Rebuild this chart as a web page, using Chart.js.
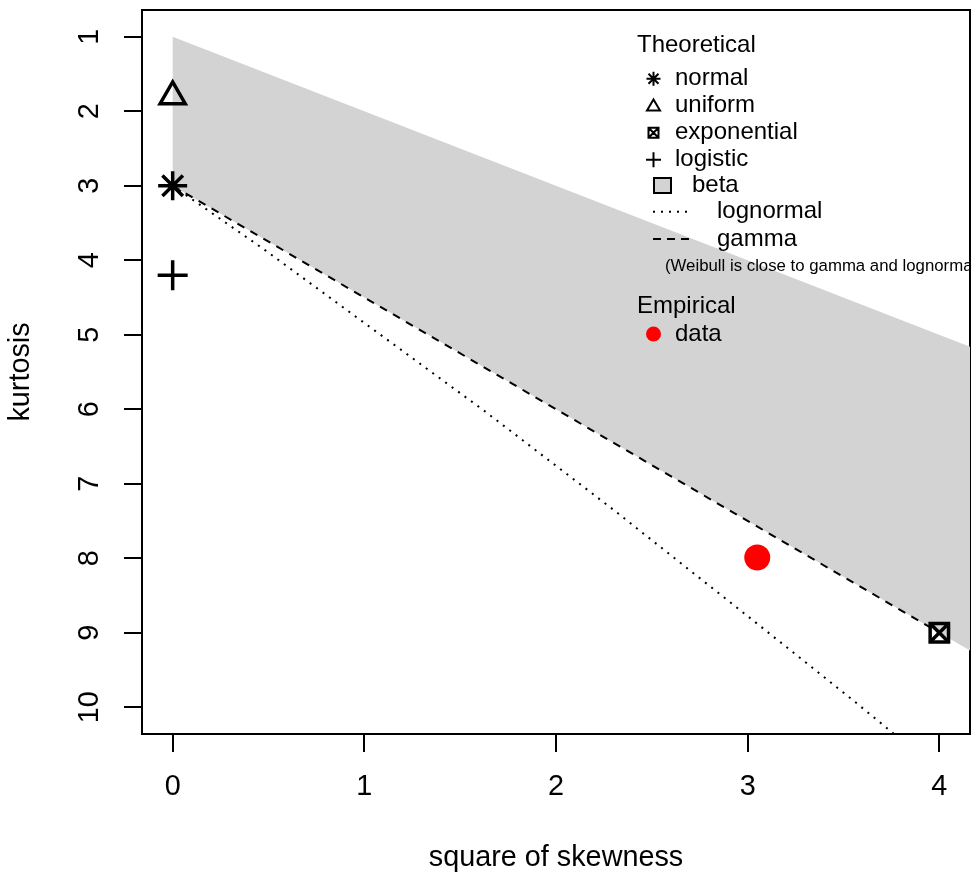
<!DOCTYPE html>
<html><head><meta charset="utf-8">
<script src="https://cdn.jsdelivr.net/npm/chart.js@4/dist/chart.umd.min.js"></script>
<style>html,body{margin:0;padding:0;background:#fff}canvas{display:block}</style>
</head><body>
<canvas id="c" width="973" height="875"></canvas>
<script>
// ---- data ----
const xTicks = [0, 1, 2, 3, 4];
const yTicks = [1, 2, 3, 4, 5, 6, 7, 8, 9, 10];
const xLimits = [-0.16, 4.16];
const yLimits = [0.64, 10.36];
const xTitle = 'square of skewness';
const yTitle = 'kurtosis';
const betaX = [0, 4.5, 4.5, 0];
const betaY = [1, 5.5, 9.75, 3];
const lognormalX = [0, 0.48, 1.01, 1.62, 2.30, 3.06, 3.57, 3.93];
const lognormalY = [3, 3.86, 4.86, 6.01, 7.35, 8.90, 9.95, 10.71];
const gammaX = [0, 4];
const gammaY = [3, 9];
const normalPoint = [0, 3];
const uniformPoint = [0, 1.8];
const exponentialPoint = [4, 9];
const logisticPoint = [0, 4.2];
const empiricalPoint = [3.05, 7.99];
const legendTitleTheo = 'Theoretical';
const legendNames = ['normal', 'uniform', 'exponential', 'logistic', 'beta', 'lognormal', 'gamma'];
const legendNote = '(Weibull is close to gamma and lognormal)';
const legendTitleEmp = 'Empirical';
const legendEmpName = 'data';

const pts = (xs, ys) => xs.map((v, i) => ({x: v, y: ys[i]}));
const FONT = '"Liberation Sans", Arial, Helvetica, sans-serif';
const GRAY = '#d3d3d3';

const axesPlugin = {
  id: 'rAxes',
  beforeDatasetsDraw(chart) {
    const {ctx, chartArea: a, scales: {x, y}} = chart;
    ctx.save();
    ctx.strokeStyle = '#000';
    ctx.lineWidth = 2;
    ctx.strokeRect(a.left, a.top, a.right - a.left, a.bottom - a.top);
    ctx.beginPath();
    xTicks.forEach(v => { const p = Math.round(x.getPixelForValue(v)); ctx.moveTo(p, a.bottom); ctx.lineTo(p, a.bottom + 18); });
    yTicks.forEach(v => { const p = Math.round(y.getPixelForValue(v)); ctx.moveTo(a.left, p); ctx.lineTo(a.left - 18, p); });
    ctx.stroke();
    ctx.fillStyle = '#000';
    ctx.textAlign = 'center';
    ctx.textBaseline = 'middle';
    ctx.font = '28.8px ' + FONT;
    xTicks.forEach(v => ctx.fillText(String(v), x.getPixelForValue(v), 787));
    yTicks.forEach(v => {
      ctx.save(); ctx.translate(90.5, y.getPixelForValue(v)); ctx.rotate(-Math.PI / 2);
      ctx.fillText(String(v), 0, 0); ctx.restore();
    });
    ctx.fillText(xTitle, (a.left + a.right) / 2, 858);
    ctx.save(); ctx.translate(21.5, (a.top + a.bottom) / 2); ctx.rotate(-Math.PI / 2);
    ctx.fillText(yTitle, 0, 0); ctx.restore();
    ctx.restore();
  }
};

const legendPlugin = {
  id: 'rLegend',
  afterDatasetsDraw(chart) {
    const {ctx, chartArea: a} = chart;
    ctx.save();
    ctx.beginPath(); ctx.rect(a.left, a.top, a.right - a.left, a.bottom - a.top); ctx.clip();
    ctx.fillStyle = '#000'; ctx.strokeStyle = '#000';
    ctx.textAlign = 'left'; ctx.textBaseline = 'middle';
    ctx.font = '24px ' + FONT;
    const sx = 653.5;
    const rows = [78.7, 105.5, 132.7, 159.7, 185.5, 211.7, 239];
    ctx.fillText(legendTitleTheo, 637, 45.5);
    ctx.lineWidth = 2;
    let cy = rows[0];
    ctx.beginPath();
    ctx.moveTo(sx - 7, cy); ctx.lineTo(sx + 7, cy);
    ctx.moveTo(sx, cy - 7); ctx.lineTo(sx, cy + 7);
    ctx.moveTo(sx - 5, cy - 5); ctx.lineTo(sx + 5, cy + 5);
    ctx.moveTo(sx - 5, cy + 5); ctx.lineTo(sx + 5, cy - 5);
    ctx.stroke();
    cy = rows[1];
    ctx.beginPath();
    ctx.moveTo(sx, cy - 6); ctx.lineTo(sx + 6.5, cy + 5); ctx.lineTo(sx - 6.5, cy + 5); ctx.closePath();
    ctx.stroke();
    cy = rows[2];
    ctx.beginPath();
    ctx.rect(sx - 5, cy - 5, 10, 10);
    ctx.moveTo(sx - 5, cy - 5); ctx.lineTo(sx + 5, cy + 5);
    ctx.moveTo(sx - 5, cy + 5); ctx.lineTo(sx + 5, cy - 5);
    ctx.stroke();
    cy = rows[3];
    ctx.beginPath();
    ctx.moveTo(sx - 7.5, cy); ctx.lineTo(sx + 7.5, cy);
    ctx.moveTo(sx, cy - 7.5); ctx.lineTo(sx, cy + 7.5);
    ctx.stroke();
    cy = rows[4];
    ctx.fillStyle = GRAY;
    ctx.fillRect(654, cy - 7.5, 17, 15);
    ctx.strokeRect(654, cy - 7.5, 17, 15);
    ctx.fillStyle = '#000';
    cy = rows[5];
    ctx.setLineDash([2, 6]);
    ctx.beginPath(); ctx.moveTo(653, cy); ctx.lineTo(693, cy); ctx.stroke();
    cy = rows[6];
    ctx.setLineDash([8, 6]);
    ctx.beginPath(); ctx.moveTo(653, cy); ctx.lineTo(690, cy); ctx.stroke();
    ctx.setLineDash([]);
    const textX = [675, 675, 675, 675, 692, 717, 717];
    legendNames.forEach((n, i) => ctx.fillText(n, textX[i], rows[i]));
    ctx.font = '16.8px ' + FONT;
    ctx.fillText(legendNote, 665, 266);
    ctx.font = '24px ' + FONT;
    ctx.fillText(legendTitleEmp, 637, 306.5);
    ctx.fillStyle = '#ff0000';
    ctx.beginPath(); ctx.arc(sx, 334, 7.5, 0, Math.PI * 2); ctx.fill();
    ctx.fillStyle = '#000';
    ctx.fillText(legendEmpName, 675, 334);
    ctx.restore();
  }
};

const pointDs = (p, style, r, extra) => Object.assign({
  type: 'scatter', data: [{x: p[0], y: p[1]}], showLine: false,
  pointStyle: style, pointRadius: r, pointHoverRadius: r,
  pointBorderColor: '#000', pointBackgroundColor: 'rgba(0,0,0,0)',
  pointBorderWidth: 3.5, pointHoverBorderWidth: 3.5, order: 1, clip: false
}, extra || {});

new Chart(document.getElementById('c'), {
  type: 'scatter',
  data: {
    datasets: [
      { label: 'beta', data: pts(betaX, betaY), showLine: true, fill: 'shape',
        backgroundColor: GRAY, borderColor: 'rgba(0,0,0,0)', borderWidth: 0,
        pointRadius: 0, tension: 0, order: 5, clip: 0 },
      { label: 'lognormal', data: pts(lognormalX, lognormalY), showLine: true, fill: false,
        borderColor: '#000', borderWidth: 2, borderDash: [2, 6], borderCapStyle: 'butt',
        pointRadius: 0, tension: 0, order: 3, clip: 0 },
      { label: 'gamma', data: pts(gammaX, gammaY), showLine: true, fill: false,
        borderColor: '#000', borderWidth: 2, borderDash: [8, 7], borderCapStyle: 'butt',
        pointRadius: 0, tension: 0, order: 3, clip: 0 },
      pointDs(uniformPoint, 'triangle', 14.5),
      pointDs(normalPoint, 'star', 14.5),
      pointDs(logisticPoint, 'cross', 15),
      pointDs(exponentialPoint, 'rect', 13),
      pointDs(exponentialPoint, 'crossRot', 13),
      pointDs(empiricalPoint, 'circle', 13, {pointBackgroundColor: '#ff0000', pointBorderColor: '#ff0000', pointBorderWidth: 0})
    ]
  },
  options: {
    responsive: false,
    devicePixelRatio: 1,
    animation: false,
    events: [],
    layout: { autoPadding: false, padding: { left: 142, right: 3, top: 10, bottom: 141 } },
    plugins: { legend: { display: false }, tooltip: { enabled: false } },
    scales: {
      x: { type: 'linear', display: false, min: xLimits[0], max: xLimits[1] },
      y: { type: 'linear', display: false, reverse: true, min: yLimits[0], max: yLimits[1] }
    }
  },
  plugins: [axesPlugin, legendPlugin]
});
</script>
</body></html>
